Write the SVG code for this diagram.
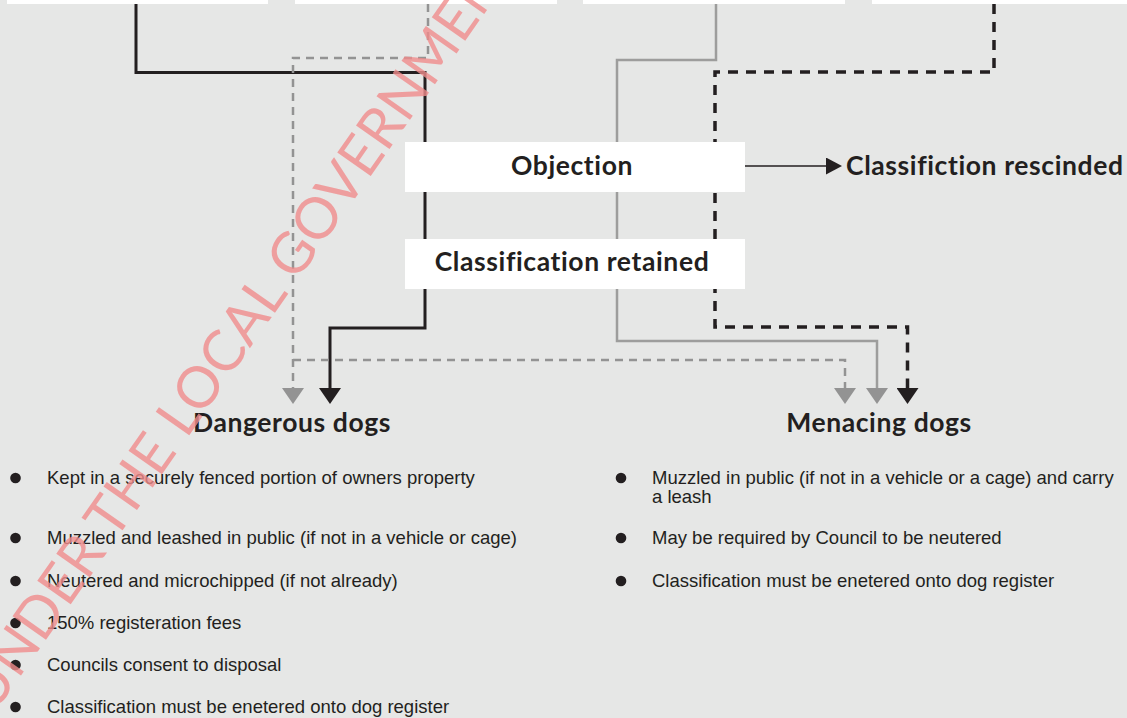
<svg xmlns="http://www.w3.org/2000/svg" width="1127" height="718" viewBox="0 0 1127 718">
<defs>
<style>
.bg{fill:#e6e7e6}
.box{fill:#ffffff}
.head{font-family:Lato,"Liberation Sans",sans-serif;font-weight:700;font-size:26.5px;letter-spacing:0.6px;fill:#231f20}
.item{font-family:"Liberation Sans",Arial,sans-serif;font-size:18.5px;fill:#231f20}
.dot{fill:#231f20}
.blk{fill:none;stroke:#231f20;stroke-width:3}
.blkd{fill:none;stroke:#231f20;stroke-width:3.5;stroke-dasharray:10 8}
.gry{fill:none;stroke:#9d9d9c;stroke-width:2.5}
.gryd{fill:none;stroke:#939393;stroke-width:2.5;stroke-dasharray:8 6}
.thin{fill:none;stroke:#231f20;stroke-width:1.5}
.wm{font-family:Lato,"Open Sans",sans-serif;font-weight:400;font-size:57px;fill:#f08c8c;fill-opacity:0.8}
</style>
<marker id="ab" viewBox="0 0 16 22" refX="0" refY="11" markerWidth="16" markerHeight="22" markerUnits="userSpaceOnUse" orient="auto"><path d="M0,0 L16,11 L0,22 z" fill="#231f20"/></marker>
<marker id="ag" viewBox="0 0 16 22" refX="0" refY="11" markerWidth="16" markerHeight="22" markerUnits="userSpaceOnUse" orient="auto"><path d="M0,0 L16,11 L0,22 z" fill="#939393"/></marker>
<marker id="as" viewBox="0 0 16 17" refX="0" refY="8.5" markerWidth="16" markerHeight="17" markerUnits="userSpaceOnUse" orient="auto"><path d="M0,0 L16,8.5 L0,17 z" fill="#231f20"/></marker>
</defs>
<rect class="bg" x="0" y="0" width="1127" height="718"/>
<g id="connectors">
<path class="blk" d="M136,4 V72.5 H425 V328 H330 V388" marker-end="url(#ab)"/>
<path class="gryd" d="M428,4 V58 H293 V388" marker-end="url(#ag)"/>
<path class="gryd" d="M293,360 H845 V388" marker-end="url(#ag)"/>
<path class="gry" d="M716,4 V60 H617 V341 H877 V388" marker-end="url(#ag)"/>
<path class="blkd" d="M994,4 V72 H715 V327 H907.5 V388" marker-end="url(#ab)"/>
<path class="thin" d="M745,166 H826" marker-end="url(#as)"/>
</g>
<g id="top-box-1"><rect class="box" x="7" y="-2" width="261" height="6"/></g>
<g id="top-box-2"><rect class="box" x="295" y="-2" width="262" height="6"/></g>
<g id="top-box-3"><rect class="box" x="583" y="-2" width="262" height="6"/></g>
<g id="top-box-4"><rect class="box" x="872" y="-2" width="260" height="6"/></g>
<g id="objection"><rect class="box" x="405" y="142" width="340" height="50"/><text class="head" x="572" y="175" text-anchor="middle">Objection</text></g>
<g id="retained"><rect class="box" x="405" y="239" width="340" height="50"/><text class="head" x="572" y="271" text-anchor="middle">Classification retained</text></g>
<g id="rescinded"><text class="head" x="846" y="175">Classifiction rescinded</text></g>
<g id="dangerous"><text class="head" x="292" y="432" text-anchor="middle">Dangerous dogs</text></g>
<g id="menacing"><text class="head" x="879" y="432" text-anchor="middle">Menacing dogs</text></g>
<g id="dangerous-list">
<circle class="dot" cx="15.5" cy="478" r="5.3"/><text class="item" x="47" y="484">Kept in a securely fenced portion of owners property</text>
<circle class="dot" cx="15.5" cy="538" r="5.3"/><text class="item" x="47" y="544">Muzzled and leashed in public (if not in a vehicle or cage)</text>
<circle class="dot" cx="15.5" cy="581" r="5.3"/><text class="item" x="47" y="587">Neutered and microchipped (if not already)</text>
<circle class="dot" cx="15.5" cy="623" r="5.3"/><text class="item" x="47" y="629">150% registeration fees</text>
<circle class="dot" cx="15.5" cy="665" r="5.3"/><text class="item" x="47" y="671">Councils consent to disposal</text>
<circle class="dot" cx="15.5" cy="707" r="5.3"/><text class="item" x="47" y="713">Classification must be enetered onto dog register</text>
</g>
<g id="menacing-list">
<circle class="dot" cx="621" cy="478" r="5.3"/><text class="item" x="652" y="484">Muzzled in public (if not in a vehicle or a cage) and carry</text>
<text class="item" x="652" y="503">a leash</text>
<circle class="dot" cx="621" cy="538" r="5.3"/><text class="item" x="652" y="544">May be required by Council to be neutered</text>
<circle class="dot" cx="621" cy="581" r="5.3"/><text class="item" x="652" y="587">Classification must be enetered onto dog register</text>
</g>
<g id="watermark"><text class="wm" transform="translate(-6,714) rotate(-55)">UNDER THE LOCAL GOVERNMENT</text></g>
</svg>
